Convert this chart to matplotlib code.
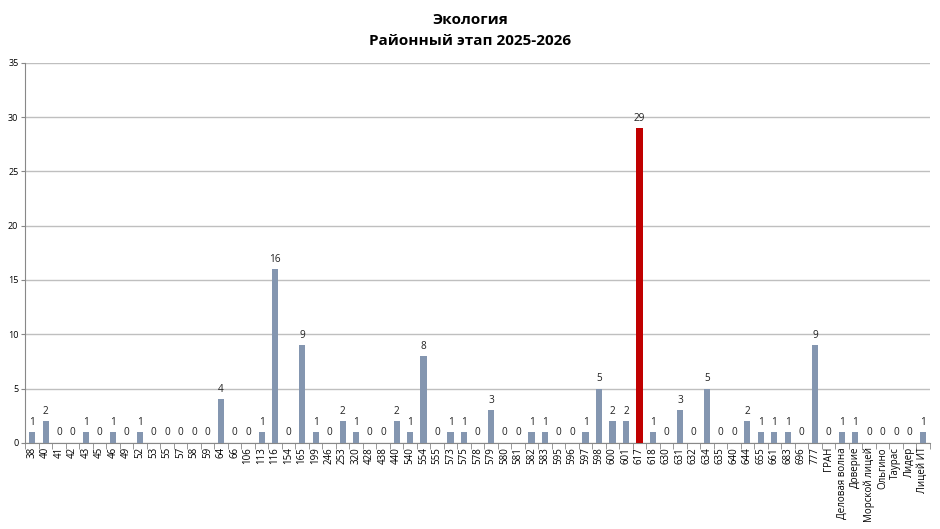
import numpy as np
import matplotlib.pyplot as plt

plt.rcParams['font.family'] = ['Open Sans', 'DejaVu Sans']

schools = ['38', '40', '41', '42', '43', '45', '46', '49', '52', '53', '55', '57', '58', '59',
           '64', '66', '106', '113', '116', '154', '165', '199', '246', '253', '320', '428',
           '438', '440', '540', '554', '555', '573', '575', '578', '579', '580', '581', '582',
           '583', '595', '596', '597', '598', '600', '601', '617', '618', '630', '631', '632',
           '634', '635', '640', '644', '655', '661', '683', '696', '777', 'ГРАН',
           'Деловая волна', 'Доверие', 'Морской лицей', 'Ольгино', 'Таурас', 'Лидер', 'Лицей ИТ']
counts = [1, 2, 0, 0, 1, 0, 1, 0, 1, 0, 0, 0, 0, 0,
          4, 0, 0, 1, 16, 0, 9, 1, 0, 2, 1, 0,
          0, 2, 1, 8, 0, 1, 1, 0, 3, 0, 0, 1,
          1, 0, 0, 1, 5, 2, 2, 29, 1, 0, 3, 0,
          5, 0, 0, 2, 1, 1, 1, 0, 9, 0,
          1, 1, 0, 0, 0, 0, 1]
highlight = '617'

fig = plt.figure(figsize=(9.4, 5.29), dpi=100)
ax = fig.add_axes([0.027, 0.163, 0.962, 0.718])

x = np.arange(len(schools))
colors = ['#C00000' if s == highlight else '#8496B0' for s in schools]
ax.bar(x, counts, width=0.45, color=colors, zorder=3)
for xi, v in zip(x, counts):
    ax.text(xi, v + 0.4, str(v), ha='center', va='bottom', fontsize=7.2, color='#222222')

ax.set_xlim(-0.5, len(schools) - 0.5)
ax.set_ylim(0, 35)
ax.set_yticks(range(0, 36, 5))
ax.yaxis.grid(True, color='#BFBFBF', linewidth=1, zorder=0)
ax.set_xticks(x)
ax.set_xticklabels(schools, rotation=90, fontsize=7)
ax.tick_params(axis='x', length=0, pad=3)
ax.set_xticks(np.arange(-0.5, len(schools), 1), minor=True)
ax.tick_params(axis='x', which='minor', length=4, color='#888888')
ax.tick_params(axis='y', labelsize=6.5, length=3, color='#888888', pad=2)
for s in ['top', 'right']:
    ax.spines[s].set_visible(False)
ax.spines['left'].set_color('#888888')
ax.spines['bottom'].set_color('#888888')

fig.text(0.5, 0.963, 'Экология', ha='center', va='center', fontsize=11, fontweight='bold')
fig.text(0.5, 0.922, 'Районный этап 2025-2026', ha='center', va='center', fontsize=11, fontweight='bold')

fig.savefig('out.png', dpi=100)
